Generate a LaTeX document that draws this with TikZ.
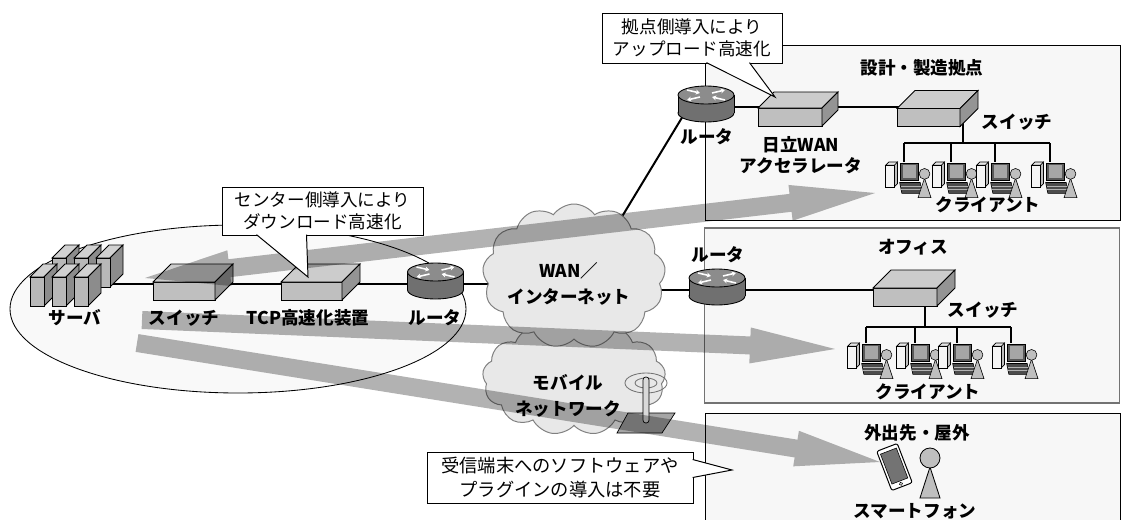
\documentclass[tikz,border=0pt]{standalone}
\usepackage{fontspec}
\setmainfont{Noto Sans CJK JP}
\usepackage{tikz}
\usetikzlibrary{shapes.geometric,shapes.symbols,calc,arrows.meta}

\pgfdeclarelayer{bg}
\pgfdeclarelayer{links}
\pgfsetlayers{bg,links,main}

\definecolor{sitebg}{gray}{0.97}
\definecolor{zonebg}{gray}{0.975}
\definecolor{ctop}{gray}{0.80}
\definecolor{cfront}{gray}{0.75}
\definecolor{cside}{gray}{0.58}
\definecolor{rttop}{gray}{0.55}
\definecolor{rtside}{gray}{0.44}
\definecolor{srvtop}{gray}{0.82}
\definecolor{srvfront}{gray}{0.72}
\definecolor{srvside}{gray}{0.55}
\definecolor{cloudbg}{gray}{0.91}
\definecolor{pcuser}{gray}{0.75}

% one pixel of the drawing
\newcommand{\pu}{0.025cm}
% sizes of the thick flow arrows
\newcommand{\halfshaft}{0.225cm}
\newcommand{\halfhead}{0.45cm}
\newcommand{\headlen}{2.125cm}

% box shaped device: name, centre of front face, width, depth
\newcommand{\netbox}[4]{%
  \node[devfront, minimum width=#3*\pu] (#1) at (#2) {};
  \filldraw[devline, fill=ctop] (#1.north west) -- ++(#4,-#4) -- ++(#3,0) -- (#1.north east) -- cycle;
  \filldraw[devline, fill=cside] (#1.north east) -- ++(#4,-#4) -- ++(0,18) -- (#1.south east) -- cycle;
}

% router: name, point where the link passes
\newcommand{\router}[2]{%
  \coordinate (#1) at (#2);
  \begin{scope}[shift={(#2)}]
    \filldraw[devline, fill=rtside] (0,6) ellipse [x radius=28, y radius=9];
    \fill[rtside] (-28,-12) rectangle (28,6);
    \draw[devline] (-28,-12) -- (-28,6) (28,-12) -- (28,6);
    \filldraw[devline, fill=rttop] (0,-12) ellipse [x radius=28, y radius=9];
    \draw[rtarrow] (-19,-17) -- (-6,-14);
    \draw[rtarrow] (19,-7) -- (6,-10);
    \draw[rtarrow] (6,-14) -- (19,-17);
    \draw[rtarrow] (-6,-10) -- (-19,-7);
  \end{scope}
}

% server tower: top left corner of the front
\newcommand{\server}[1]{%
  \begin{scope}[shift={(#1)}]
    \filldraw[devline, fill=srvtop] (0,0) -- (13,-13) -- (27,-13) -- (14,0) -- cycle;
    \filldraw[devline, fill=srvside] (14,0) -- (27,-13) -- (27,16) -- (14,29) -- cycle;
    \filldraw[devline, fill=srvfront] (0,0) rectangle (14,29);
  \end{scope}
}

% client pc with its user: name, drop point on the monitor
\newcommand{\client}[2]{%
  \coordinate (#1) at (#2);
  \begin{scope}[shift={(#2)}, scale=1.08, line width=0.4pt]
    \filldraw[fill=black!25] (-9,3) -- (-6,0) -- (-6,20) -- (-9,23) -- cycle;
    \filldraw[fill=black!10] (-17,3) -- (-14,0) -- (-6,0) -- (-9,3) -- cycle;
    \filldraw[fill=black!4] (-17,3) rectangle (-9,23);
    \filldraw[fill=black!65] (-3,1) rectangle (13,17);
    \fill[black!35] (-1,3) rectangle (11,15);
    \filldraw[fill=black!70] (-4,19) -- (15,19) -- (17,29) -- (-2,29) -- cycle;
    \draw[black!30, line width=0.3pt] (-3,22) -- (15.5,22) (-2.5,25.5) -- (16,25.5);
    \filldraw[fill=pcuser] (19,15) -- (13,33) -- (25,33) -- cycle;
    \filldraw[fill=pcuser] (19,11) circle (5);
  \end{scope}
}

% thick one way arrow: tail, tip
\newcommand{\flowarrow}[2]{%
  \path ($(#2)!\headlen!(#1)$) coordinate (hb);
  \fill[flowband] ($(#1)!\halfshaft!90:(#2)$) -- ($(hb)!\halfshaft!90:(#2)$)
    -- ($(hb)!\halfhead!90:(#2)$) -- (#2) -- ($(hb)!\halfhead!-90:(#2)$)
    -- ($(hb)!\halfshaft!-90:(#2)$) -- ($(#1)!\halfshaft!-90:(#2)$) -- cycle;
}

% thick two way arrow
\newcommand{\twowayarrow}[2]{%
  \path ($(#2)!\headlen!(#1)$) coordinate (hb) ($(#1)!\headlen!(#2)$) coordinate (ha);
  \fill[flowband] (#1) -- ($(ha)!\halfhead!90:(#2)$) -- ($(ha)!\halfshaft!90:(#2)$)
    -- ($(hb)!\halfshaft!90:(#2)$) -- ($(hb)!\halfhead!90:(#2)$) -- (#2)
    -- ($(hb)!\halfhead!-90:(#2)$) -- ($(hb)!\halfshaft!-90:(#2)$)
    -- ($(ha)!\halfshaft!-90:(#2)$) -- ($(ha)!\halfhead!-90:(#2)$) -- cycle;
}

\begin{document}
\begin{tikzpicture}[x=0.025cm, y=-0.025cm]
  \tikzstyle{site}=[rectangle, draw=black, fill=sitebg, line width=0.7pt, inner sep=0pt, minimum width=415*\pu]
  \tikzstyle{zone}=[ellipse, draw=black, fill=zonebg, line width=0.6pt, minimum width=456*\pu, minimum height=168*\pu]
  \tikzstyle{link}=[draw=black, line width=2*\pu]
  \tikzstyle{bus}=[draw=black, line width=1.6*\pu]
  \tikzstyle{devline}=[draw=black, line width=0.6pt]
  \tikzstyle{devfront}=[rectangle, devline, fill=cfront, inner sep=0pt, outer sep=0pt, minimum height=18*\pu]
  \tikzstyle{rtarrow}=[draw=white, line width=1.1pt, -{Stealth[length=3pt, width=3.5pt]}]
  \tikzstyle{netcloud}=[cloud, cloud puffs=13, cloud puff arc=110, cloud ignores aspect, draw=black!50, fill=cloudbg, line width=0.7pt, inner sep=0pt]
  \tikzstyle{flowband}=[fill=black, fill opacity=0.3]
  \tikzstyle{note}=[rectangle, draw=black, fill=white, line width=0.7pt, inner sep=0pt, align=center, font=\fontsize{12.5}{16}\selectfont]
  \tikzstyle{notetail}=[draw=black, fill=white, line width=0.7pt]
  \tikzstyle{txt}=[font=\bfseries\fontsize{12.5}{14.5}\selectfont, inner sep=0pt, align=center]

  \useasboundingbox (0,0) rectangle (1121,520);

  % sites and data centre
  \begin{pgfonlayer}{bg}
    \node[site, minimum height=175*\pu] (base) at (912.5,132.5) {};
    \node[site, draw=black!55, line width=1.2pt, minimum height=175*\pu] (office) at (912,315.5) {};
    \node[site, minimum height=114*\pu] (outside) at (912.5,470) {};
    \node[zone] (dc) at (238,309) {};
  \end{pgfonlayer}

  % clouds
  \node[netcloud, minimum width=183*\pu, minimum height=114*\pu] (mob) at (574,378) {};
  \node[netcloud, minimum width=183*\pu, minimum height=144*\pu] (wan) at (574,276) {};

  % base station
  \coordinate (ant) at (646,413);
  \filldraw[fill=black!35, line width=0.5pt] (617,433) -- (628,413) -- (675,413) -- (662,433) -- cycle;
  \draw[black!55, line width=0.6pt] (646,383) ellipse [x radius=21, y radius=10];
  \draw[black!55, line width=0.6pt] (646,383) ellipse [x radius=11, y radius=5];
  \filldraw[fill=black!15, line width=0.5pt, rounded corners=2pt] (643,423) rectangle (649,377);

  % servers
  \coordinate (srv) at (105,284);
  \foreach \x in {52,74,96} \server{\x,258};
  \foreach \x in {30,52,74} \server{\x,277};

  % devices
  \netbox{sw1}{184,291}{62}{18}
  \netbox{tcp}{311.5,291}{61}{18}
  \netbox{acc}{790,117}{64}{16}
  \netbox{sw2}{928.5,117.5}{63}{18}
  \netbox{sw3}{905,297}{64}{18}
  \router{rt1}{435.5,284}
  \router{rt2}{706,107}
  \router{rt3}{717,290}

  % clients
  \coordinate (bus2) at (963,143);
  \coordinate (bus3) at (925,327);
  \client{c11}{904,162}
  \client{c12}{951,162}
  \client{c13}{995,162}
  \client{c14}{1050,162}
  \client{c21}{866,343}
  \client{c22}{915,343}
  \client{c23}{957,343}
  \client{c24}{1011,343}

  % smartphone and user
  \coordinate (phone) at (894.5,467);
  \begin{scope}[shift={(phone)}, rotate=21, line width=0.7pt]
    \filldraw[fill=white, rounded corners=1.5pt] (-11,-21) rectangle (11,21);
    \filldraw[fill=black!55, line width=0.4pt] (-8.5,-17) rectangle (8.5,15);
    \draw[line width=0.4pt] (0,18) circle (1.6);
  \end{scope}
  \filldraw[fill=pcuser, line width=0.6pt] (930,467) -- (920,498) -- (940,498) -- cycle;
  \filldraw[fill=pcuser, line width=0.6pt] (930,458) circle (10);

  % cables
  \begin{pgfonlayer}{links}
    \draw[link] (srv) -- (sw1 |- srv) -- (tcp |- srv) -- (rt1) -- (wan |- rt1);
    \draw[link] ([xshift=12*\pu]wan.center) -- ([xshift=-20*\pu, yshift=-4*\pu]rt2);
    \draw[link] (rt2) -- (acc |- rt2) -- (sw2 |- rt2);
    \draw[link] (wan |- rt3) -- (rt3) -- (sw3 |- rt3);
    \draw[bus] (bus2 |- sw2) -- (bus2);
    \draw[bus] (c11 |- bus2) -- (c14 |- bus2);
    \foreach \i in {1,...,4} \draw[bus] (c1\i |- bus2) -- (c1\i);
    \draw[bus] (bus3 |- sw3) -- (bus3);
    \draw[bus] (c21 |- bus3) -- (c24 |- bus3);
    \foreach \i in {1,...,4} \draw[bus] (c2\i |- bus3) -- (c2\i);
  \end{pgfonlayer}

  % data flows
  \coordinate (up0) at (145,278);
  \coordinate (up1) at (875,193);
  \coordinate (dn0) at (142,320);
  \coordinate (dn1) at (835,349);
  \coordinate (mb0) at (137,343);
  \coordinate (mb1) at (880,462);
  \twowayarrow{up0}{up1}
  \flowarrow{dn0}{dn1}
  \flowarrow{mb0}{mb1}

  % call-outs
  \node[note, minimum width=201*\pu, minimum height=48*\pu] (ncenter) at (322.5,211) {センター側導入により\\ダウンロード高速化};
  \coordinate (ncentertip) at (308,277);
  \filldraw[notetail] ([xshift=35*\pu, yshift=0.6pt]ncenter.south west) -- (ncentertip) -- ([xshift=85*\pu, yshift=0.6pt]ncenter.south west);

  \node[note, minimum width=180*\pu, minimum height=50*\pu] (nbase) at (692,38) {拠点側導入により\\アップロード高速化};
  \coordinate (nbasetip) at (775,97);
  \filldraw[notetail] ([xshift=105*\pu, yshift=0.6pt]nbase.south west) -- (nbasetip) -- ([xshift=148*\pu, yshift=0.6pt]nbase.south west);

  \node[note, font=\fontsize{13}{17}\selectfont, minimum width=266*\pu, minimum height=51*\pu] (nmobile) at (560,477.5) {受信端末へのソフトウェアや\\プラグインの導入は不要};
  \coordinate (nmobiletip) at (732,470);
  \filldraw[notetail] ([xshift=-0.6pt, yshift=-8*\pu]nmobile.north east) -- (nmobiletip) -- ([xshift=-0.6pt, yshift=-26*\pu]nmobile.north east);

  % labels
  \node[txt] (lsrv) at (75,318) {サーバ};
  \node[txt] (lsw1) at (184,318) {スイッチ};
  \node[txt] (ltcp) at (308,318) {TCP高速化装置};
  \node[txt] (lrt1) at (435,318) {ルータ};
  \node[txt, font=\bfseries\fontsize{12.5}{18.5}\selectfont] (lwan) at (569,284) {WAN／\\インターネット};
  \node[txt, font=\bfseries\fontsize{12.5}{18}\selectfont] (lmob) at (568,396) {モバイル\\ネットワーク};
  \node[txt] (lrt2) at (707,137) {ルータ};
  \node[txt] (lacc) at (801,155) {日立WAN\\アクセラレータ};
  \node[txt] (lbase) at (922,68) {設計・製造拠点};
  \node[txt] (lsw2) at (1017,122) {スイッチ};
  \node[txt] (lcl1) at (988,205) {クライアント};
  \node[txt] (lrt3) at (718,255) {ルータ};
  \node[txt] (loffice) at (913,247) {オフィス};
  \node[txt] (lsw3) at (983,310) {スイッチ};
  \node[txt] (lcl2) at (928,392) {クライアント};
  \node[txt] (lout) at (917,433) {外出先・屋外};
  \node[txt] (lphone) at (915,511) {スマートフォン};
\end{tikzpicture}
\end{document}
